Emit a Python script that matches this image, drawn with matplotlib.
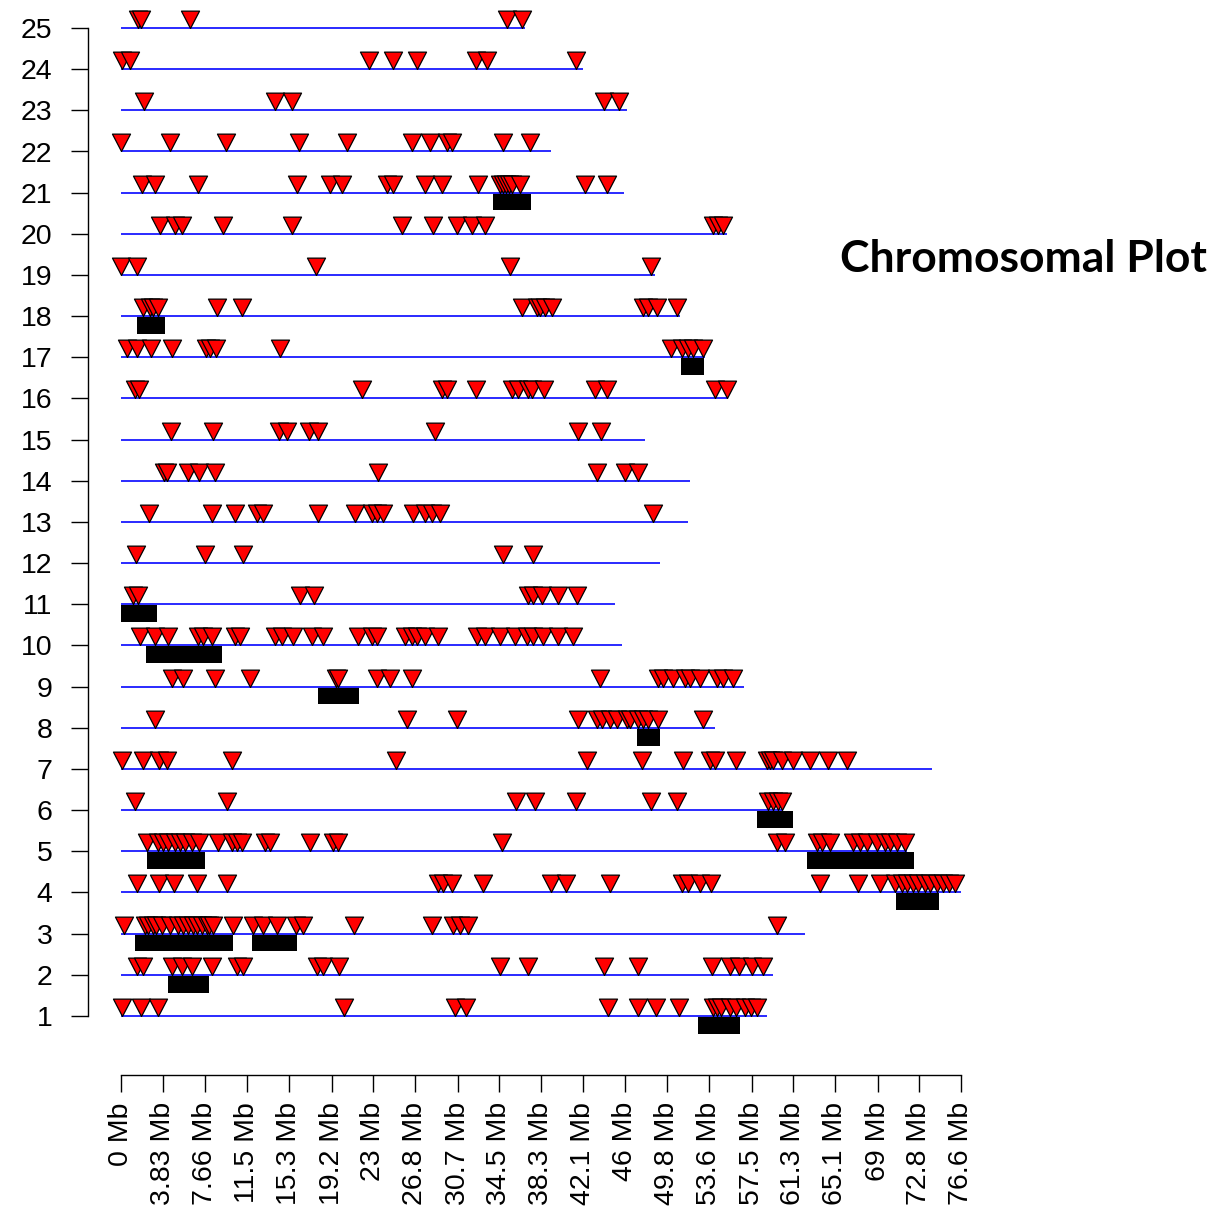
import numpy as np
import matplotlib
matplotlib.use("Agg")
import matplotlib.pyplot as plt
from matplotlib.patches import Rectangle

# chromosome lengths (Mb), chromosome 1..25
chrom_len = [58.9, 59.5, 62.4, 76.6, 71.7, 60.3, 74.0, 54.2, 56.8, 45.7,
             45.05, 49.15, 51.7, 51.9, 47.8, 55.35, 53.3, 51.0, 48.7, 55.3,
             45.9, 39.2, 46.1, 42.1, 36.84]

# marker positions (Mb) per chromosome
chr1 = [0.09, 1.82, 3.37, 20.3, 30.5, 31.5, 44.4, 47.1, 48.8, 50.9, 54.0,
        54.35, 54.7, 55.5, 56.1, 56.9, 57.45, 58.0]
chr2 = [1.46, 2.0, 4.65, 5.56, 6.47, 8.3, 10.6, 11.1, 17.9, 18.4, 19.9,
        34.6, 37.1, 44.0, 47.1, 53.9, 55.5, 56.4, 57.5, 58.5]
chr3 = [0.27, 2.19, 2.5, 2.9, 3.2, 3.74, 4.47, 5.2, 5.65, 6.1, 6.57, 6.9,
        7.4, 7.84, 8.0, 8.4, 10.2, 12.0, 12.95, 14.2, 16.0, 16.6, 21.25,
        28.4, 30.3, 30.9, 31.6, 59.8]
chr4 = [1.46, 3.47, 4.83, 6.93, 9.67, 28.9, 29.4, 30.2, 33.0, 39.2, 40.6,
        44.6, 51.2, 51.7, 52.8, 53.8, 63.7, 67.2, 69.2, 70.6, 71.2, 71.7,
        72.2, 72.7, 73.3, 73.8, 74.4, 74.96, 75.5, 76.05]
chr5 = [2.37, 3.37, 3.83, 4.29, 4.92, 5.38, 5.84, 6.47, 7.1, 8.85, 10.1,
        10.6, 11.0, 13.1, 13.6, 17.2, 19.3, 19.8, 34.7, 59.8, 60.55, 63.5,
        63.9, 64.65, 66.75, 67.4, 68.0, 68.9, 69.7, 70.1, 70.8, 71.5]
chr6 = [1.28, 9.67, 36.0, 37.75, 41.5, 48.3, 50.7, 59.0, 59.5, 59.9, 60.3]
chr7 = [0.09, 2.0, 3.47, 4.2, 10.1, 25.1, 42.5, 47.5, 51.25, 53.7, 54.2,
        56.1, 58.9, 59.2, 59.5, 60.3, 61.3, 62.8, 64.5, 66.2]
chr8 = [3.1, 26.1, 30.6, 41.7, 43.4, 43.9, 44.6, 45.2, 46.1, 46.4, 47.1,
        47.6, 48.06, 49.0, 53.1]
chr9 = [4.65, 5.65, 8.57, 11.76, 19.6, 19.8, 23.3, 24.5, 26.5, 43.7, 49.0,
        49.4, 50.3, 51.4, 51.9, 52.8, 54.35, 54.9, 55.8]
chr10 = [1.73, 3.1, 4.29, 7.0, 7.5, 8.3, 10.4, 10.85, 14.0, 14.7, 15.7,
         17.4, 18.4, 21.6, 22.9, 23.3, 25.9, 26.5, 27.0, 27.7, 28.9, 32.5,
         33.2, 34.6, 35.9, 37.0, 37.6, 38.5, 39.85, 41.2]
chr11 = [1.1, 1.55, 16.3, 17.6, 37.1, 37.6, 38.4, 39.85, 41.6]
chr12 = [1.37, 7.66, 11.1, 34.8, 37.6]
chr13 = [2.55, 8.3, 10.4, 12.4, 12.95, 18.0, 21.3, 22.9, 23.3, 23.9, 26.6,
         27.7, 28.4, 29.1, 48.5]
chr14 = [3.9, 4.2, 6.1, 7.1, 8.6, 23.4, 43.4, 46.0, 47.1]
chr15 = [4.56, 8.4, 14.4, 15.1, 17.1, 18.0, 28.6, 41.7, 43.8]
chr16 = [1.28, 1.64, 22.0, 29.3, 29.7, 32.4, 35.7, 36.2, 37.1, 37.5, 38.6,
         43.2, 44.3, 54.2, 55.3]
chr17 = [0.55, 1.46, 2.74, 4.65, 7.75, 8.1, 8.66, 14.5, 50.2, 51.2, 51.7,
         52.2, 53.1]
chr18 = [2.0, 2.64, 2.9, 3.37, 8.75, 11.0, 36.6, 37.9, 38.2, 38.7, 39.3,
         47.6, 48.06, 48.9, 50.7]
chr19 = [0.0, 1.46, 17.8, 35.5, 48.3]
chr20 = [3.56, 4.92, 5.56, 9.3, 15.6, 25.6, 28.45, 30.6, 32.0, 33.2, 54.0,
         54.4, 54.9]
chr21 = [1.9, 3.1, 7.0, 16.05, 19.06, 20.15, 24.26, 24.8, 27.7, 29.3, 32.6,
         34.6, 34.8, 35.1, 35.4, 35.7, 36.4, 42.3, 44.3]
chr22 = [0.0, 4.47, 9.58, 16.2, 20.6, 26.5, 28.2, 29.7, 30.2, 34.8, 37.3]
chr23 = [2.1, 14.0, 15.6, 44.0, 45.4]
chr24 = [0.09, 0.82, 22.6, 24.8, 27.0, 32.4, 33.4, 41.5]
chr25 = [1.55, 1.82, 6.29, 35.2, 36.57]

markers = [chr1, chr2, chr3, chr4, chr5, chr6, chr7, chr8, chr9, chr10,
           chr11, chr12, chr13, chr14, chr15, chr16, chr17, chr18, chr19,
           chr20, chr21, chr22, chr23, chr24, chr25]

# highlighted regions: (chromosome, start Mb, end Mb)
regions = [(1, 52.6, 56.45), (2, 4.29, 8.02), (3, 1.28, 10.2),
           (3, 11.95, 16.05), (4, 70.67, 74.6), (5, 2.37, 7.66),
           (5, 62.56, 72.3), (6, 58.0, 61.3), (8, 47.05, 49.15),
           (9, 17.96, 21.7), (10, 2.28, 9.21), (11, 0.0, 3.28),
           (17, 51.1, 53.2), (18, 1.46, 4.0), (21, 33.9, 37.4)]

tick_mb = [0, 3.83, 7.66, 11.5, 15.3, 19.2, 23, 26.8, 30.7, 34.5, 38.3,
           42.1, 46, 49.8, 53.6, 57.5, 61.3, 65.1, 69, 72.8, 76.6]
tick_labels = ["%g Mb" % v for v in tick_mb]

W, H = 1229, 1218
fig = plt.figure(figsize=(W / 100, H / 100), dpi=100)
ax = fig.add_axes([88 / W, 1 - 1075 / H, (975 - 88) / W, (1075 - 5) / H])

mb_per_px = 76.6 / 840
chr_per_px = 24 / 988
ax.set_xlim((88 - 121) * mb_per_px, (975 - 121) * mb_per_px)
ax.set_ylim(1 - (1075 - 1016) * chr_per_px, 25 + (28 - 5) * chr_per_px)

# down-pointing triangle with its tip on the anchor point
tri = [(0, 0), (-0.52, 1), (0.52, 1), (0, 0)]

for i, (length, pos) in enumerate(zip(chrom_len, markers)):
    c = i + 1
    ax.plot([0, length], [c, c], color="#2a2aff", lw=1.4, zorder=3,
            solid_capstyle="butt")
    ax.plot(pos, [c] * len(pos), linestyle="none", marker=tri,
            markersize=25, markerfacecolor="#ff0000",
            markeredgecolor="black", markeredgewidth=0.9, zorder=4)

for c, start, end in regions:
    ax.add_patch(Rectangle((start, c - 0.43), end - start, 0.42,
                           facecolor="black", edgecolor="none", zorder=2))

for side in ("top", "right"):
    ax.spines[side].set_visible(False)
ax.spines["left"].set_bounds(1, 25)
ax.spines["bottom"].set_bounds(0, 76.6)
for side in ("left", "bottom"):
    ax.spines[side].set_linewidth(1.0)

ax.set_yticks(range(1, 26))
ax.set_yticklabels([str(c) for c in range(1, 26)],
                   family="Liberation Sans", fontsize=20.5)
ax.set_xticks(tick_mb)
ax.set_xticklabels(tick_labels, rotation=90, family="Liberation Sans",
                   fontsize=20.5)
ax.tick_params(axis="y", length=12.5, width=1.0, pad=13)
ax.tick_params(axis="x", length=12.5, width=1.0, pad=7)

fig.text(1207 / W, 1 - 272 / H, "Chromosomal Plot", ha="right",
         va="baseline", family="Lato", fontweight="bold", fontsize=32)

fig.savefig("out.png", dpi=100, facecolor="white")
